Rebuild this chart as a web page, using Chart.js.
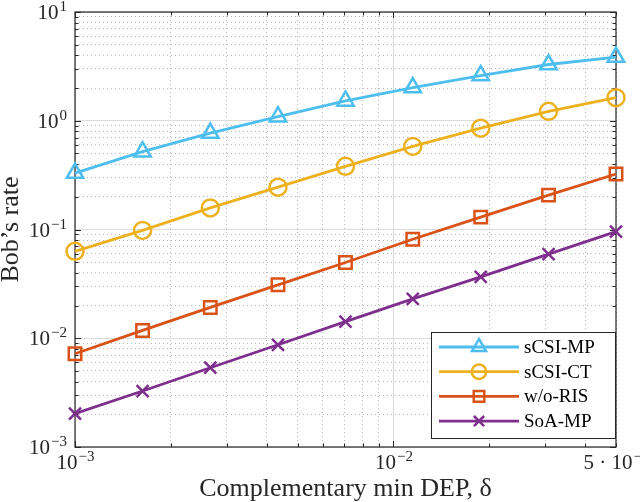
<!DOCTYPE html>
<html>
<head>
<meta charset="utf-8">
<script src="https://cdn.jsdelivr.net/npm/chart.js@4.4.1/dist/chart.umd.min.js"></script>
<style>
  html, body { margin: 0; padding: 0; background: #fff; }
  #wrap { width: 640px; height: 502px; position: relative; }
</style>
</head>
<body>
<div id="wrap"><canvas id="rateChart"></canvas></div>
<script>
// data
const delta = [0.001, 0.00163, 0.00266, 0.00434, 0.00707, 0.0115, 0.0188, 0.0307, 0.05];
const sCsiMp = [0.33, 0.52, 0.77, 1.09, 1.52, 2.02, 2.60, 3.29, 3.85];
const sCsiCt = [0.063, 0.098, 0.158, 0.245, 0.381, 0.581, 0.855, 1.22, 1.63];
const woRis = [0.0072, 0.0118, 0.0192, 0.031, 0.0497, 0.0813, 0.130, 0.207, 0.324];
const soaMp = [0.00203, 0.00327, 0.00536, 0.00871, 0.0142, 0.023, 0.0367, 0.0593, 0.0955];

const seriesNames = ["sCSI-MP", "sCSI-CT", "w/o-RIS", "SoA-MP"];

// tick labels
const xLabelValues = [0.001, 0.01, 0.05];
const xLabelBase = ["10", "10", "5 \u00b7 10"];
const xLabelExp = ["\u22123", "\u22122", "\u22122"];
const yLabelValues = [0.001, 0.01, 0.1, 1, 10];
const yLabelBase = ["10", "10", "10", "10", "10"];
const yLabelExp = ["\u22123", "\u22122", "\u22121", "0", "1"];

const SERIF = "'Liberation Serif', 'DejaVu Serif', serif";
const AXIS_COLOR = "#262626";

function logTicks(min, max) {
  const out = [];
  for (let d = Math.floor(Math.log10(min)); d <= Math.ceil(Math.log10(max)); d++) {
    for (let k = 1; k <= 9; k++) {
      const v = +(k * Math.pow(10, d)).toPrecision(6);
      if (v >= min * 0.9999 && v <= max * 1.0001) out.push(v);
    }
  }
  return out;
}

function isDecade(v) {
  const l = Math.log10(v);
  return Math.abs(l - Math.round(l)) < 1e-6;
}

const xTicks = logTicks(0.001, 0.05);
const yTicks = logTicks(0.001, 10);

function pairs(ys) {
  return delta.map((x, i) => ({ x: x, y: ys[i] }));
}

function drawMarker(ctx, style, x, y, r) {
  ctx.beginPath();
  if (style === "triangle") {
    for (let i = 0; i < 3; i++) {
      const a = i * 2 * Math.PI / 3;
      const px = x + Math.sin(a) * r, py = y - Math.cos(a) * r;
      if (i === 0) ctx.moveTo(px, py); else ctx.lineTo(px, py);
    }
    ctx.closePath();
  } else if (style === "circle") {
    ctx.arc(x, y, r, 0, Math.PI * 2);
  } else if (style === "rect") {
    const s = r * Math.SQRT1_2;
    ctx.rect(x - s, y - s, 2 * s, 2 * s);
  } else if (style === "crossRot") {
    const s = r * Math.SQRT1_2;
    ctx.moveTo(x - s, y - s); ctx.lineTo(x + s, y + s);
    ctx.moveTo(x - s, y + s); ctx.lineTo(x + s, y - s);
  }
  ctx.stroke();
}

const axesPlugin = {
  id: "axesPlugin",
  beforeDatasetsDraw(chart) {
    const ctx = chart.ctx;
    const a = chart.chartArea;
    const xs = chart.scales.x, ys = chart.scales.y;
    ctx.save();
    ctx.strokeStyle = AXIS_COLOR;
    ctx.lineWidth = 1.2;
    ctx.strokeRect(a.left, a.top, a.right - a.left, a.bottom - a.top);
    ctx.lineWidth = 1;
    ctx.beginPath();
    xTicks.forEach(v => {
      const px = Math.round(xs.getPixelForValue(v)) + 0.5;
      const len = isDecade(v) ? 6 : 3.5;
      ctx.moveTo(px, a.bottom); ctx.lineTo(px, a.bottom - len);
      ctx.moveTo(px, a.top); ctx.lineTo(px, a.top + len);
    });
    yTicks.forEach(v => {
      const py = Math.round(ys.getPixelForValue(v)) + 0.5;
      const len = isDecade(v) ? 6 : 3.5;
      ctx.moveTo(a.left, py); ctx.lineTo(a.left + len, py);
      ctx.moveTo(a.right, py); ctx.lineTo(a.right - len, py);
    });
    ctx.stroke();

    // tick labels with superscripts
    ctx.fillStyle = AXIS_COLOR;
    ctx.textBaseline = "alphabetic";
    ctx.textAlign = "left";
    const baseFont = "21px " + SERIF, expFont = "15px " + SERIF;
    xLabelValues.forEach((v, i) => {
      const px = xs.getPixelForValue(v);
      ctx.font = baseFont;
      const bw = ctx.measureText(xLabelBase[i]).width;
      ctx.font = expFont;
      const ew = ctx.measureText(xLabelExp[i]).width;
      const x0 = px - (bw + ew) / 2;
      ctx.font = baseFont;
      ctx.fillText(xLabelBase[i], x0, a.bottom + 22);
      ctx.font = expFont;
      ctx.fillText(xLabelExp[i], x0 + bw + 1, a.bottom + 14);
    });
    yLabelValues.forEach((v, i) => {
      const py = ys.getPixelForValue(v);
      ctx.font = expFont;
      const ew = ctx.measureText(yLabelExp[i]).width;
      ctx.font = baseFont;
      const bw = ctx.measureText(yLabelBase[i]).width;
      const x0 = a.left - 8 - ew - bw - 1;
      ctx.fillText(yLabelBase[i], x0, py + 7);
      ctx.font = expFont;
      ctx.fillText(yLabelExp[i], x0 + bw + 1, py - 1);
    });
    ctx.restore();
  },
  afterDatasetsDraw(chart) {
    const ctx = chart.ctx;
    const a = chart.chartArea;
    const w = 184, h = 106;
    const bx = a.right - 1 - w, by = a.bottom - 9 - h;
    ctx.save();
    ctx.fillStyle = "#fff";
    ctx.fillRect(bx, by, w, h);
    ctx.strokeStyle = AXIS_COLOR;
    ctx.lineWidth = 1;
    ctx.strokeRect(bx + 0.5, by + 0.5, w, h);
    ctx.font = "19px " + SERIF;
    ctx.textBaseline = "middle";
    chart.data.datasets.forEach((ds, i) => {
      const y = by + 15 + i * 24.7;
      ctx.strokeStyle = ds.borderColor;
      ctx.lineWidth = ds.borderWidth;
      ctx.beginPath();
      ctx.moveTo(bx + 8, y); ctx.lineTo(bx + 88, y);
      ctx.stroke();
      ctx.lineWidth = ds.pointBorderWidth;
      drawMarker(ctx, ds.pointStyle, bx + 48, y, ds.pointRadius * 0.85);
      ctx.fillStyle = "#000";
      ctx.fillText(ds.label, bx + 93, y + 1);
    });
    ctx.restore();
  }
};

function makeSet(label, ys, color, style, radius) {
  return {
    label: label,
    data: pairs(ys),
    borderColor: color,
    backgroundColor: "rgba(0,0,0,0)",
    borderWidth: 2.8,
    pointStyle: style,
    pointRadius: radius,
    pointHoverRadius: radius,
    pointBorderWidth: 2.5,
    pointBorderColor: color,
    pointBackgroundColor: "rgba(0,0,0,0)",
    tension: 0,
    clip: false,
  };
}

new Chart(document.getElementById("rateChart").getContext("2d"), {
  type: "line",
  data: {
    datasets: [
      makeSet(seriesNames[0], sCsiMp, "#4DBEEE", "triangle", 9.5),
      makeSet(seriesNames[1], sCsiCt, "#EDB120", "circle", 8.5),
      makeSet(seriesNames[2], woRis, "#D95319", "rect", 8.8),
      makeSet(seriesNames[3], soaMp, "#7E2F8E", "crossRot", 8.5),
    ],
  },
  options: {
    responsive: true,
    maintainAspectRatio: false,
    animation: false,
    layout: { padding: { top: 10, right: 24, bottom: 0, left: 0 } },
    plugins: { legend: { display: false }, tooltip: { enabled: false } },
    scales: {
      x: {
        type: "logarithmic",
        position: "bottom",
        min: 0.001,
        max: 0.05,
        afterBuildTicks: s => { s.ticks = xTicks.map(v => ({ value: v })); },
        afterFit: s => { s.height = 55; s.paddingLeft = 0; s.paddingRight = 0; },
        ticks: { display: false, autoSkip: false },
        grid: {
          drawTicks: false,
          color: c => (c.tick && isDecade(c.tick.value)) ? "#dcdcdc" : "#b8b8b8",
          lineWidth: 1,
        },
        border: { display: false, dash: c => (c.tick && !isDecade(c.tick.value)) ? [1, 3] : [] },
        title: {
          display: true,
          text: "Complementary min DEP, \u03b4",
          color: AXIS_COLOR,
          font: { family: SERIF, size: 26, lineHeight: 1 },
          padding: { top: 0, bottom: 0 },
        },
      },
      y: {
        type: "logarithmic",
        position: "left",
        min: 0.001,
        max: 10,
        afterBuildTicks: s => { s.ticks = yTicks.map(v => ({ value: v })); },
        afterFit: s => { s.width = 75; s.paddingTop = 0; s.paddingBottom = 0; },
        ticks: { display: false, autoSkip: false },
        grid: {
          drawTicks: false,
          color: c => (c.tick && isDecade(c.tick.value)) ? "#dcdcdc" : "#b8b8b8",
          lineWidth: 1,
        },
        border: { display: false, dash: c => (c.tick && !isDecade(c.tick.value)) ? [1, 3] : [] },
        title: {
          display: true,
          text: "Bob\u2019s rate",
          color: AXIS_COLOR,
          font: { family: SERIF, size: 26, lineHeight: 0.85 },
          padding: { top: 0, bottom: 0 },
        },
      },
    },
  },
  plugins: [axesPlugin],
});
</script>
</body>
</html>
